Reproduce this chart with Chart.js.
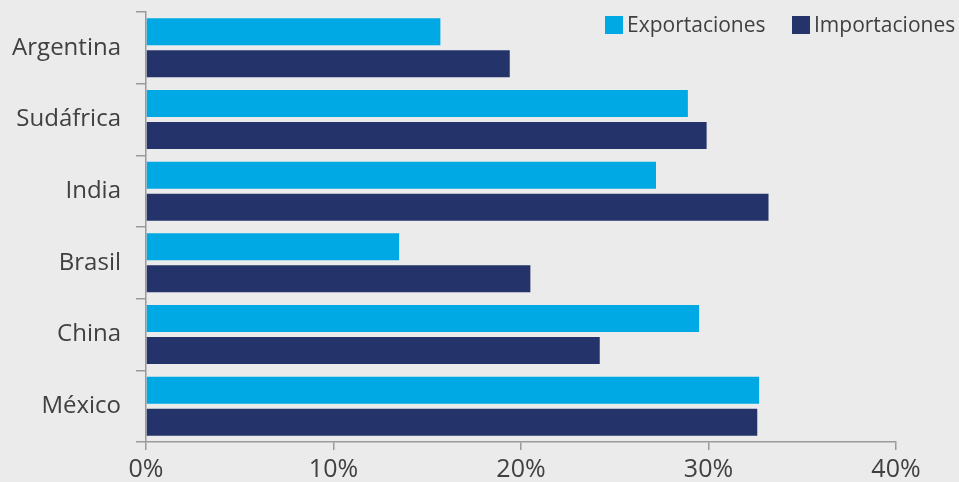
<!DOCTYPE html>
<html>
<head>
<meta charset="utf-8">
<script src="https://cdn.jsdelivr.net/npm/chart.js@4"></script>
<style>
  html, body { margin: 0; padding: 0; background: #ebebeb; }
  #chart { display: block; }
</style>
</head>
<body>
<canvas id="chart" width="959" height="482"></canvas>
<script>
// data
const countries = ["Argentina", "Sudáfrica", "India", "Brasil", "China", "México"];
const exportaciones = [15.7, 28.9, 27.2, 13.5, 29.5, 32.7];
const importaciones = [19.4, 29.9, 33.2, 20.5, 24.2, 32.6];
const seriesNames = ["Exportaciones", "Importaciones"];
const xTicks = [0, 10, 20, 30, 40];

const fontFamily = "'Open Sans', 'Noto Sans', sans-serif";
const textColor = "#404040";
const axisColor = "#9a9a9a";

// legend sits inside the plot, top right
const topLegend = {
    id: "topLegend",
    afterDraw(chart) {
        const ctx = chart.ctx;
        const spots = [605, 792];
        ctx.save();
        ctx.font = "21px " + fontFamily;
        ctx.textBaseline = "middle";
        chart.data.datasets.forEach((ds, i) => {
            ctx.fillStyle = ds.backgroundColor;
            ctx.fillRect(spots[i], 16, 18, 18);
            ctx.fillStyle = textColor;
            ctx.fillText(ds.label, spots[i] + 22, 26);
        });
        ctx.restore();
    }
};

new Chart(document.getElementById("chart"), {
    type: "bar",
    data: {
        labels: countries,
        datasets: [{
            label: seriesNames[0],
            data: exportaciones,
            backgroundColor: "#00a9e3",
            categoryPercentage: 0.893,
            barPercentage: 0.844
        }, {
            label: seriesNames[1],
            data: importaciones,
            backgroundColor: "#25336b",
            categoryPercentage: 0.893,
            barPercentage: 0.844
        }]
    },
    options: {
        indexAxis: "y",
        responsive: false,
        animation: false,
        devicePixelRatio: 1,
        layout: { padding: { top: 12, right: 63, left: 0, bottom: 0 } },
        plugins: {
            legend: { display: false },
            tooltip: { enabled: false }
        },
        scales: {
            x: {
                min: 0,
                max: 40,
                afterBuildTicks: (scale) => { scale.ticks = xTicks.map(v => ({ value: v })); },
                afterFit: (scale) => { scale.height = 40; },
                border: { color: axisColor, width: 1.5 },
                grid: { drawOnChartArea: false, tickLength: 8, color: axisColor, lineWidth: 1.5 },
                ticks: {
                    color: textColor,
                    padding: 5,
                    maxRotation: 0,
                    autoSkip: false,
                    font: { family: fontFamily, size: 25 },
                    callback: (v) => v + "%"
                }
            },
            y: {
                afterFit: (scale) => {
                    scale.width = 146;
                    // no extra room above/below for the labels
                    scale.paddingTop = 0;
                    scale.paddingBottom = 0;
                },
                border: { color: axisColor, width: 1.5 },
                grid: { drawOnChartArea: false, tickLength: 10, color: axisColor, lineWidth: 1.5, offset: true },
                ticks: {
                    color: textColor,
                    padding: 15,
                    autoSkip: false,
                    font: { family: fontFamily, size: 24 }
                }
            }
        }
    },
    plugins: [topLegend]
});
</script>
</body>
</html>
